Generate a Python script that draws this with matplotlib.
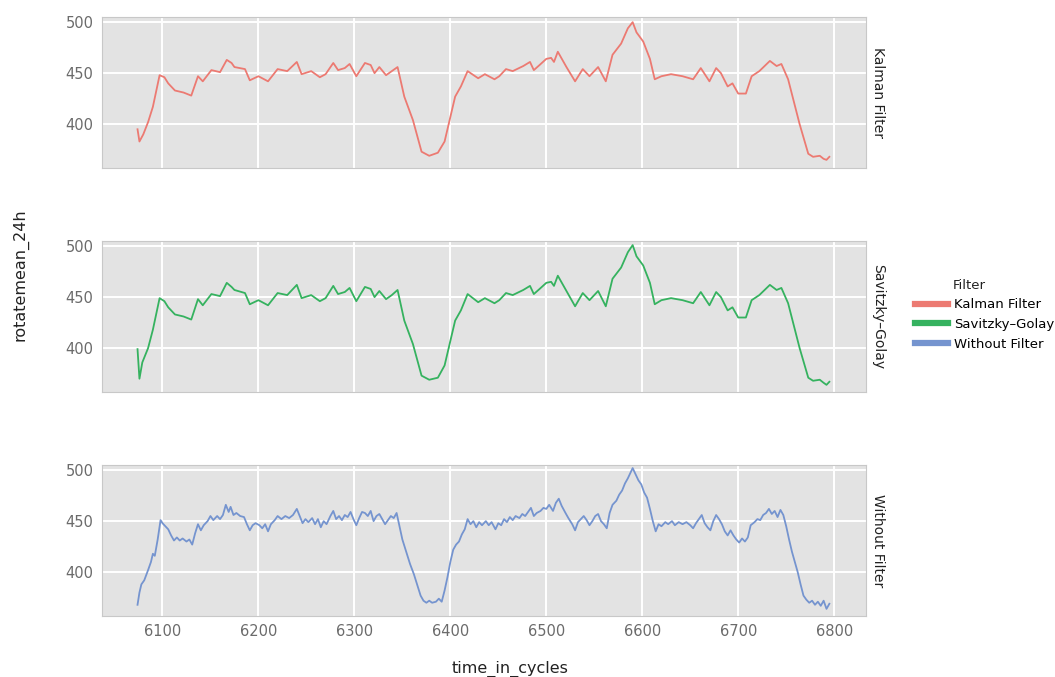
import numpy as np
import matplotlib.pyplot as plt
from matplotlib.lines import Line2D

# Dados
kalman_time = [6074, 6076, 6080, 6085, 6090, 6097, 6102, 6106, 6113, 6122, 6130, 6137, 6142, 6151,
               6160, 6167, 6172, 6175, 6186, 6191, 6200, 6210, 6220, 6230, 6240, 6245, 6255, 6264,
               6270, 6278, 6283, 6290, 6295, 6302, 6311, 6317, 6321, 6326, 6333, 6339, 6345, 6352,
               6361, 6370, 6378, 6387, 6394, 6405, 6411, 6418, 6429, 6436, 6446, 6451, 6458, 6465,
               6476, 6483, 6487, 6493, 6500, 6505, 6508, 6512, 6521, 6530, 6538, 6545, 6554, 6562,
               6569, 6578, 6585, 6590, 6594, 6601, 6608, 6613, 6620, 6630, 6642, 6653, 6661, 6670,
               6677, 6682, 6689, 6694, 6700, 6708, 6714, 6722, 6733, 6740, 6745, 6752, 6764, 6773,
               6778, 6785, 6789, 6792, 6795]
kalman_vals = [395, 383, 390, 402, 417, 448, 446, 440, 433, 431, 428, 447, 442, 453,
               451, 463, 460, 456, 454, 443, 447, 442, 454, 452, 461, 449, 452, 446,
               449, 460, 453, 455, 459, 447, 460, 458, 450, 456, 448, 452, 456, 427,
               404, 373, 369, 372, 383, 427, 437, 452, 445, 449, 444, 447, 454, 452,
               457, 461, 453, 458, 464, 465, 461, 471, 456, 442, 454, 447, 456, 442,
               468, 479, 494, 500, 490, 481, 464, 444, 447, 449, 447, 444, 455, 442,
               455, 450, 437, 440, 430, 430, 447, 452, 462, 457, 459, 444, 400, 371,
               368, 369, 366, 365, 368]

sg_time = [6074, 6076, 6079, 6085, 6090, 6097, 6102, 6106, 6113, 6122, 6130, 6137, 6142, 6151,
           6160, 6167, 6172, 6175, 6186, 6191, 6200, 6210, 6220, 6230, 6240, 6245, 6255, 6264,
           6270, 6278, 6283, 6290, 6295, 6302, 6311, 6317, 6321, 6326, 6333, 6339, 6345, 6352,
           6361, 6370, 6378, 6387, 6394, 6405, 6411, 6418, 6429, 6436, 6446, 6451, 6458, 6465,
           6476, 6483, 6487, 6493, 6500, 6505, 6508, 6512, 6521, 6530, 6538, 6545, 6554, 6562,
           6569, 6578, 6585, 6590, 6594, 6601, 6608, 6613, 6620, 6630, 6642, 6653, 6661, 6670,
           6677, 6682, 6689, 6694, 6700, 6708, 6714, 6722, 6733, 6740, 6745, 6752, 6764, 6773,
           6778, 6785, 6789, 6792, 6795]
sg_vals = [399, 370, 386, 400, 418, 449, 446, 440, 433, 431, 428, 448, 442, 453,
           451, 464, 460, 457, 454, 443, 447, 442, 454, 452, 462, 449, 452, 446,
           449, 461, 453, 455, 459, 446, 460, 458, 450, 456, 448, 452, 457, 427,
           404, 373, 369, 371, 383, 427, 437, 453, 445, 449, 444, 447, 454, 452,
           457, 461, 453, 458, 464, 465, 461, 471, 456, 441, 454, 447, 456, 441,
           468, 479, 494, 501, 490, 481, 464, 443, 447, 449, 447, 444, 455, 442,
           455, 450, 437, 440, 430, 430, 447, 452, 462, 457, 459, 444, 400, 371,
           368, 369, 366, 364, 367]

raw_time = [6074, 6076, 6078, 6081, 6085, 6088, 6090, 6092, 6095, 6098, 6100, 6103, 6106, 6109,
            6112, 6115, 6118, 6121, 6125, 6128, 6131, 6134, 6137, 6140, 6143, 6147, 6150, 6153,
            6157, 6160, 6163, 6166, 6169, 6171, 6174, 6177, 6181, 6185, 6188, 6191, 6194, 6197,
            6201, 6204, 6207, 6210, 6213, 6217, 6220, 6224, 6228, 6232, 6236, 6240, 6243, 6246,
            6249, 6252, 6256, 6259, 6262, 6265, 6268, 6271, 6275, 6278, 6281, 6284, 6287, 6290,
            6293, 6296, 6299, 6302, 6305, 6308, 6311, 6314, 6317, 6320, 6323, 6326, 6329, 6332,
            6335, 6338, 6341, 6344, 6347, 6350, 6354, 6358, 6362, 6366, 6369, 6372, 6375, 6378,
            6381, 6385, 6388, 6391, 6394, 6397, 6400, 6403, 6406, 6409, 6412, 6415, 6418, 6421,
            6424, 6427, 6430, 6433, 6437, 6440, 6443, 6447, 6450, 6453, 6456, 6459, 6462, 6465,
            6468, 6472, 6475, 6478, 6481, 6484, 6487, 6490, 6494, 6497, 6500, 6503, 6507, 6510,
            6513, 6516, 6520, 6523, 6527, 6530, 6533, 6536, 6539, 6542, 6545, 6548, 6551, 6554,
            6557, 6560, 6563, 6566, 6569, 6573, 6576, 6579, 6582, 6585, 6588, 6590, 6593, 6596,
            6599, 6602, 6605, 6608, 6611, 6614, 6617, 6620, 6624, 6627, 6631, 6634, 6638, 6642,
            6646, 6650, 6653, 6656, 6659, 6662, 6665, 6668, 6671, 6674, 6677, 6680, 6683, 6686,
            6689, 6692, 6695, 6698, 6701, 6704, 6707, 6710, 6713, 6717, 6720, 6723, 6726, 6729,
            6732, 6735, 6738, 6741, 6744, 6747, 6750, 6753, 6756, 6759, 6762, 6765, 6768, 6771,
            6774, 6777, 6780, 6783, 6786, 6789, 6792, 6795]
raw_vals = [368, 380, 388, 392, 402, 410, 418, 416, 432, 451, 448, 445, 442, 436,
            431, 434, 431, 433, 430, 432, 427, 438, 447, 441, 446, 450, 455, 451,
            455, 452, 456, 466, 459, 464, 456, 458, 455, 454, 447, 441, 446, 448,
            446, 443, 447, 440, 447, 451, 455, 452, 455, 453, 456, 462, 455, 448,
            452, 449, 453, 447, 452, 444, 450, 447, 455, 460, 452, 455, 451, 456,
            454, 459, 452, 446, 453, 459, 458, 455, 460, 450, 455, 457, 452, 447,
            451, 455, 453, 458, 445, 432, 420, 408, 398, 386, 377, 372, 370, 372,
            370, 371, 374, 371, 382, 395, 410, 422, 427, 430, 437, 442, 452, 447,
            450, 444, 449, 446, 450, 446, 449, 442, 448, 446, 452, 449, 454, 451,
            455, 453, 457, 455, 459, 463, 455, 458, 460, 463, 462, 466, 460, 468,
            472, 465, 458, 453, 447, 441, 449, 452, 455, 451, 446, 450, 455, 457,
            450, 447, 443, 458, 466, 470, 476, 480, 487, 492, 498, 502, 496, 490,
            486, 478, 473, 462, 450, 440, 447, 445, 449, 447, 450, 446, 449, 447,
            449, 446, 443, 448, 452, 456, 448, 444, 441, 450, 456, 452, 447, 440,
            436, 441, 436, 432, 429, 433, 430, 434, 446, 449, 452, 451, 456, 458,
            462, 457, 460, 454, 461, 456, 445, 432, 420, 410, 400, 388, 377, 373,
            370, 372, 368, 371, 367, 372, 364, 369]

labels = ['Kalman Filter', 'Savitzky\u2013Golay', 'Without Filter']
strip_labels = ['Kalman Filter', 'Savitzky\u2013Golay', 'Without Filter']
colors = ['#ec7a72', '#35b25f', '#7594cf']
series = [(kalman_time, kalman_vals), (sg_time, sg_vals), (raw_time, raw_vals)]

xticks = [6100, 6200, 6300, 6400, 6500, 6600, 6700, 6800]
yticks = [400, 450, 500]

fig = plt.figure(figsize=(10.55, 6.77), dpi=100)
fig.patch.set_facecolor('white')

left, width, height = 0.0967, 0.724, 0.223
bottoms = [0.7518, 0.421, 0.0901]

for i, (t, v) in enumerate(series):
    ax = fig.add_axes([left, bottoms[i], width, height])
    ax.set_facecolor('#e3e3e3')
    ax.plot(t, v, color=colors[i], lw=1.3)
    ax.set_xlim(6037, 6833)
    ax.set_ylim(357, 505)
    ax.set_xticks(xticks)
    ax.set_yticks(yticks)
    ax.grid(color='white', linewidth=1.4)
    ax.set_axisbelow(True)
    for s in ax.spines.values():
        s.set_color('#c8c8c8')
        s.set_linewidth(0.8)
    ax.tick_params(length=0, labelsize=10.5, labelcolor='#6b6b6b', pad=6)
    if i < 2:
        ax.tick_params(labelbottom=False)
    ax.text(1.007, 0.5, strip_labels[i], transform=ax.transAxes, rotation=-90,
            ha='left', va='center', fontsize=10, color='#222222')

fig.text(0.019, 0.594, 'rotatemean_24h', rotation=90, ha='center', va='center',
         fontsize=11.5, color='#222222')
fig.text(0.4834, 0.006, 'time_in_cycles', ha='center', va='baseline',
         fontsize=11.5, color='#222222')

# Legenda
fig.text(0.9033, 0.579, 'Filter', ha='left', va='center', fontsize=9.5, color='#222222')
handles = [Line2D([0], [0], color=c, lw=4.5) for c in colors]
fig.legend(handles, labels, loc='upper left', bbox_to_anchor=(0.8645, 0.563),
           frameon=False, fontsize=9.5, handlelength=2.5, handletextpad=0.5,
           labelspacing=0.5, borderaxespad=0, borderpad=0.2)

plt.savefig('out.png', dpi=100)
